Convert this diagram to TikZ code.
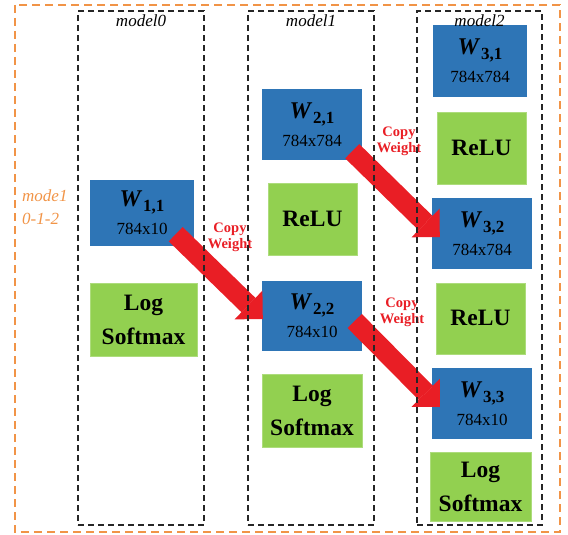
\documentclass[tikz,border=0pt]{standalone}
\usepackage{fontspec}
\setmainfont{Liberation Serif}
\usetikzlibrary{arrows.meta,positioning}

\definecolor{wblue}{HTML}{2E75B6}
\definecolor{actgreen}{HTML}{92D050}
\definecolor{copyred}{HTML}{E91E25}
\definecolor{tagorange}{HTML}{F19447}

% weight matrix name, e.g. \wname{1,1}
\newcommand{\wname}[1]{{\fontsize{24}{28}\selectfont\bfseries\itshape W}\hspace{2pt}\raisebox{-5pt}{\bfseries #1}}

\tikzset{
  weight/.style={fill=wblue, inner sep=0pt, align=center, font=\fontsize{17}{28}\selectfont},
  act/.style={fill=actgreen, draw=actgreen!75!white, line width=0.6pt, inner sep=0pt, align=center,
    font=\fontsize{23.5}{34}\selectfont\bfseries},
  relu/.style={act, text height=18pt, text depth=4pt},
  modelbox/.style={draw=black!85, line width=1.6pt, dash pattern=on 6pt off 4pt,
    minimum width=126pt, minimum height=514pt, inner sep=0pt},
  modeltitle/.style={font=\fontsize{17}{17}\selectfont\itshape, inner sep=0pt},
  copyarrow/.style={line width=20pt, draw=copyred, -{Triangle[length=20pt,width=40pt,line width=0pt]}},
  copytext/.style={text=copyred, font=\fontsize{14.5}{16}\selectfont\bfseries, align=center, inner sep=0pt},
  outerframe/.style={draw=tagorange, line width=1.6pt, dash pattern=on 8pt off 5pt}
}

\begin{document}
\begin{tikzpicture}[x=1pt, y=-1pt]
  \useasboundingbox (0,0) rectangle (568,535);

  % model0
  \node[weight, minimum width=104pt, minimum height=66pt] (w11) at (142,213) {\wname{1,1}\\784x10};
  \node[act, minimum width=107pt, minimum height=73pt] (ls0) at (143.5,319.5) {Log\\Softmax};

  % model1
  \node[weight, minimum width=100pt, minimum height=71pt] (w21) at (312,124.5) {\wname{2,1}\\784x784};
  \node[relu, minimum width=89pt, minimum height=72pt] (relu1) at (312.5,219) {ReLU};
  \node[weight, minimum width=100pt, minimum height=70pt] (w22) at (312,316) {\wname{2,2}\\784x10};
  \node[act, minimum width=100pt, minimum height=73pt] (ls1) at (312,410.5) {Log\\Softmax};

  % model2
  \node[weight, minimum width=94pt, minimum height=72pt] (w31) at (480,61) {\wname{3,1}\\784x784};
  \node[relu, minimum width=89pt, minimum height=72pt] (relu2a) at (481.5,148) {ReLU};
  \node[weight, minimum width=100pt, minimum height=71pt] (w32) at (482,233.5) {\wname{3,2}\\784x784};
  \node[relu, minimum width=89pt, minimum height=71pt] (relu2b) at (480.5,318.5) {ReLU};
  \node[weight, minimum width=100pt, minimum height=71pt] (w33) at (482,403.5) {\wname{3,3}\\784x10};
  \node[act, minimum width=101pt, minimum height=69pt] (ls2) at (480.5,486.5) {Log\\Softmax};

  % weight copies between the models
  \draw[copyarrow] ([xshift=-18.5pt,yshift=12pt]w11.south east) -- ([xshift=1pt,yshift=-3pt]w22.west);
  \draw[copyarrow] ([xshift=-10pt,yshift=9pt]w21.south east) -- ([xshift=8pt,yshift=-3.5pt]w32.west);
  \draw[copyarrow] ([xshift=-7.5pt,yshift=-5pt]w22.east) -- ([xshift=8pt,yshift=-3.5pt]w33.west);
  \node[copytext] (cw1) at (230,237) {Copy\\Weight};
  \node[copytext] (cw2) at (399,141) {Copy\\Weight};
  \node[copytext] (cw3) at (402,312) {Copy\\Weight};

  % model frames
  \node[modelbox] (m0) at (141,268) {};
  \node[modelbox] (m1) at (311,268) {};
  \node[modelbox, minimum width=125pt] (m2) at (479.5,268) {};
  \node[modeltitle, below=4pt of m0.north] (t0) {model0};
  \node[modeltitle, below=4pt of m1.north] (t1) {model1};
  \node[modeltitle, below=4pt of m2.north] (t2) {model2};

  % whole run
  \draw[outerframe] (15,5) rectangle (560,532);
  \node[anchor=west, align=left, inner sep=0pt, text=tagorange,
    font=\fontsize{17}{23}\selectfont\itshape] (tag) at (22,207) {mode1\\0-1-2};
\end{tikzpicture}
\end{document}
